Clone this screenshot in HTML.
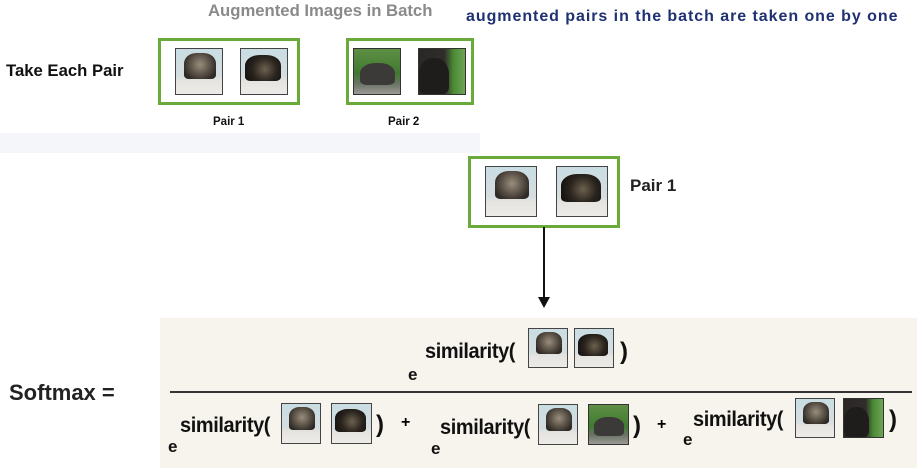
<!DOCTYPE html>
<html><head><meta charset="utf-8"><style>
*{margin:0;padding:0;box-sizing:border-box}
body{width:917px;height:468px;position:relative;background:#fff;font-family:"Liberation Sans",sans-serif;overflow:hidden}
.a{position:absolute;white-space:nowrap}
.b{font-weight:bold}
.box{position:absolute;border:3px solid #6aaa3a;background:#fff}
.cat{position:absolute;border:1.5px solid #444;background:linear-gradient(#c9dde3 0%,#d5dde0 60%,#e6e4e0 72%,#ecebe8 100%)}
.cat::after{content:"";position:absolute;left:18%;right:14%;top:8%;height:58%;border-radius:40% 40% 15% 15%;background:radial-gradient(circle at 50% 45%,#9a8e7c 0%,#5d5449 45%,#2e2924 80%)}
.cat.d::after{background:radial-gradient(circle at 55% 55%,#6d604e 0%,#2a241e 50%,#151210 85%);left:8%;right:12%;top:14%}
.ele{position:absolute;border:1.5px solid #333;background:linear-gradient(#5e8f45 0%,#3f7a30 55%,#6d7468 78%,#9a9a94 100%)}
.ele::after{content:"";position:absolute;left:14%;right:10%;top:30%;height:50%;border-radius:45% 45% 20% 20%;background:#3c3a38}
.ele.d{background:linear-gradient(90deg,#2a2826 0%,#2f2c2a 55%,#4b8a35 75%,#6ea555 100%)}
.ele.d::after{left:0;right:35%;top:20%;height:80%;background:#1f1d1c}
.sim{font-weight:bold;font-size:21px;color:#111;letter-spacing:-0.4px;transform:scaleX(0.95);transform-origin:left top}
.e{font-weight:bold;font-size:17px;color:#111}
.p{font-weight:bold;font-size:24px;color:#111}
</style></head><body>
<div class="a" style="left:0;top:133px;width:480px;height:20px;background:#f5f6f9"></div>
<div class="a b" style="left:208px;top:1px;font-size:16.7px;color:#8a8a8a">Augmented Images in Batch</div>
<div class="a b" style="left:466px;top:8px;font-size:16px;color:#1f3173;letter-spacing:0.95px">augmented pairs in the batch are taken one by one</div>
<div class="a b" style="left:6px;top:61px;font-size:16.7px;color:#111">Take Each Pair</div>

<div class="box" style="left:158px;top:38px;width:142px;height:67px"></div>
<div class="cat" style="left:175px;top:48px;width:48px;height:47px"></div>
<div class="cat d" style="left:240px;top:48px;width:48px;height:47px"></div>
<div class="box" style="left:346px;top:38px;width:128px;height:67px"></div>
<div class="ele" style="left:353px;top:48px;width:48px;height:47px"></div>
<div class="ele d" style="left:418px;top:48px;width:48px;height:47px"></div>
<div class="a b" style="left:213px;top:116px;font-size:11.5px;color:#111">Pair 1</div>
<div class="a b" style="left:388px;top:116px;font-size:11.5px;color:#111">Pair 2</div>

<div class="box" style="left:468px;top:156px;width:152px;height:72px"></div>
<div class="cat" style="left:485px;top:166px;width:52px;height:51px"></div>
<div class="cat d" style="left:556px;top:166px;width:52px;height:51px"></div>
<div class="a b" style="left:630px;top:176px;font-size:17px;color:#222">Pair 1</div>
<svg class="a" style="left:534px;top:227px" width="20" height="84"><line x1="10" y1="0" x2="10" y2="72" stroke="#111" stroke-width="2"/><polygon points="4,70 16,70 10,81" fill="#111"/></svg>

<div class="a" style="left:160px;top:318px;width:757px;height:150px;background:#f6f4ec"></div>
<div class="a b" style="left:9px;top:380px;font-size:22px;color:#222">Softmax =</div>
<div class="a" style="left:170px;top:391px;width:742px;height:2px;background:#333"></div>

<div class="a e" style="left:408px;top:365px">e</div>
<div class="a sim" style="left:425px;top:340px">similarity(</div>
<div class="cat" style="left:528px;top:328px;width:40px;height:40px"></div>
<div class="cat d" style="left:574px;top:328px;width:40px;height:40px"></div>
<div class="a p" style="left:620px;top:338px">)</div>

<div class="a e" style="left:168px;top:437px">e</div>
<div class="a sim" style="left:180px;top:414px">similarity(</div>
<div class="cat" style="left:281px;top:403px;width:40px;height:41px"></div>
<div class="cat d" style="left:331px;top:403px;width:41px;height:41px"></div>
<div class="a p" style="left:376px;top:411px">)</div>
<div class="a b" style="left:401px;top:414px;font-size:16px">+</div>

<div class="a e" style="left:431px;top:439px">e</div>
<div class="a sim" style="left:440px;top:416px">similarity(</div>
<div class="cat" style="left:538px;top:404px;width:40px;height:41px"></div>
<div class="ele" style="left:588px;top:404px;width:41px;height:41px"></div>
<div class="a p" style="left:633px;top:412px">)</div>
<div class="a b" style="left:657px;top:416px;font-size:16px">+</div>

<div class="a e" style="left:683px;top:430px">e</div>
<div class="a sim" style="left:693px;top:408px">similarity(</div>
<div class="cat" style="left:795px;top:398px;width:40px;height:40px"></div>
<div class="ele d" style="left:843px;top:398px;width:41px;height:40px"></div>
<div class="a p" style="left:889px;top:406px">)</div>
</body></html>
